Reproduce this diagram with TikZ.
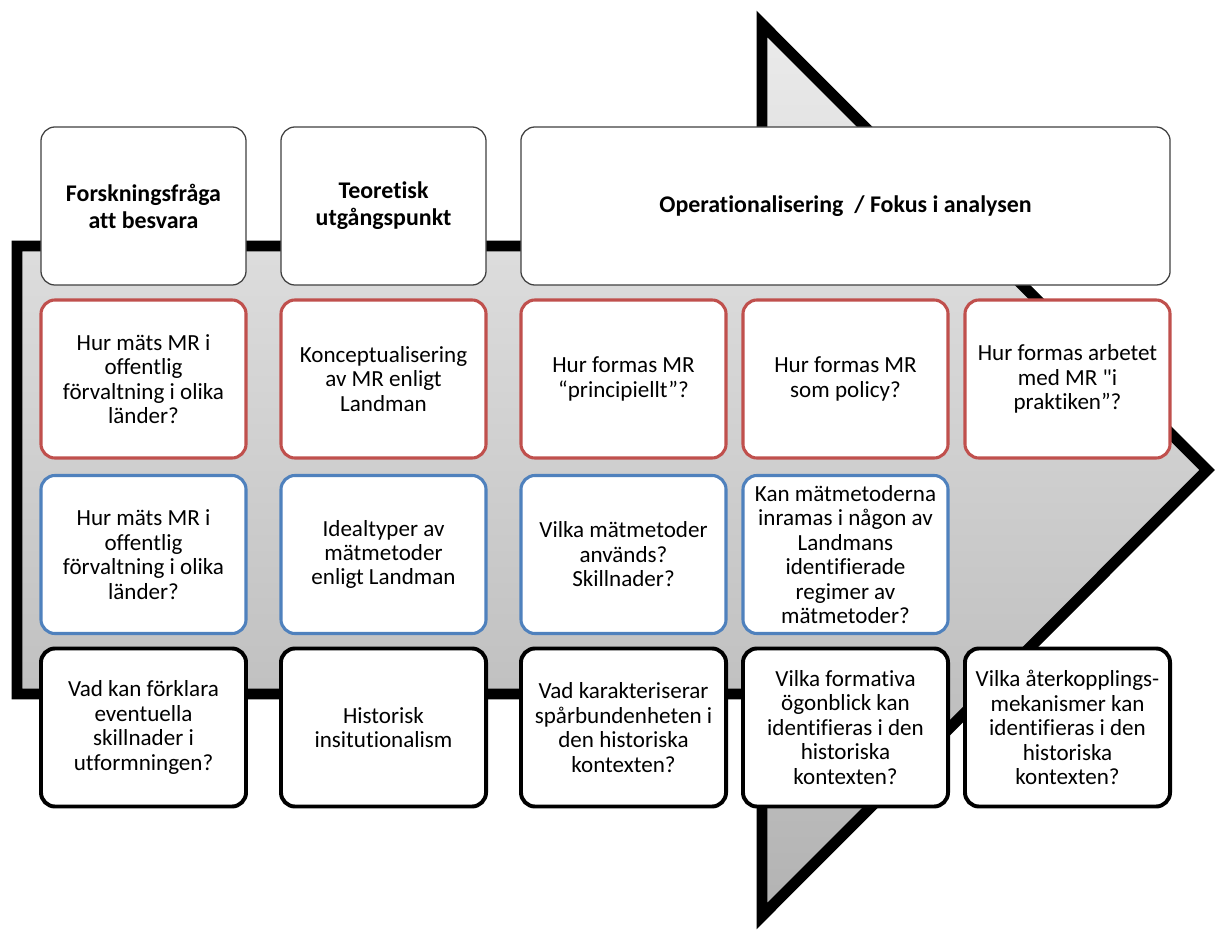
\documentclass[tikz,border=0pt]{standalone}
\usepackage{fontspec}
\newfontfamily\calfont{Carlito}[Ligatures=NoCommon]
\usetikzlibrary{shadings}
\definecolor{redline}{RGB}{192,80,77}
\definecolor{blueline}{RGB}{79,129,189}
\definecolor{headline}{RGB}{64,64,64}

\begin{document}
\begin{tikzpicture}[x=0.025cm, y=-0.025cm,
    box/.style={draw, fill=white, rounded corners=10pt, align=center,
      minimum width=5.125cm, minimum height=3.95cm, inner sep=2pt,
      font=\calfont\fontsize{16.4}{17.4}\selectfont},
    headbox/.style={box, draw=headline, line width=0.9pt,
      font=\calfont\bfseries\fontsize{17}{19.2}\selectfont},
    redbox/.style={box, draw=redline, line width=2.2pt},
    bluebox/.style={box, draw=blueline, line width=2.2pt},
    blackbox/.style={box, draw=black, line width=2.8pt}]
            \useasboundingbox (0, 0) rectangle (1216, 931);
            % big arrow behind the boxes
            \draw[line width=7.8pt, miter limit=4, top color=black!8, bottom color=black!30]
              (17, 246) -- (762, 246) -- (762, 24) -- (1207, 470) -- (762, 916)
              -- (762, 694) -- (17, 694) -- cycle;
            % headers
            \node[headbox](1) at (143.5, 206) {Forskningsfråga\\att besvara};
            \node[headbox](2) at (383.5, 206) {Teoretisk\\utgångspunkt};
            \node[headbox, minimum width=16.225cm](3) at (845.5, 206) {Operationalisering\ \ / Fokus i analysen};
            % row 1
            \node[redbox](4) at (143.5, 379) {Hur mäts MR i\\offentlig\\förvaltning i olika\\länder?};
            \node[redbox](5) at (383.5, 379) {Konceptualisering\\av MR enligt\\Landman};
            \node[redbox](6) at (623.5, 379) {Hur formas MR\\“principiellt”?};
            \node[redbox](7) at (845.5, 379) {Hur formas MR\\som policy?};
            \node[redbox](8) at (1067.5, 379) {Hur formas arbetet\\med MR "i\\praktiken”?};
            % row 2
            \node[bluebox](9) at (143.5, 554.5) {Hur mäts MR i\\offentlig\\förvaltning i olika\\länder?};
            \node[bluebox](10) at (383.5, 554.5) {Idealtyper av\\mätmetoder\\enligt Landman};
            \node[bluebox](11) at (623.5, 554.5) {Vilka mätmetoder\\används?\\Skillnader?};
            \node[bluebox](12) at (845.5, 554.5) {Kan mätmetoderna\\inramas i någon av\\Landmans\\identifierade\\regimer av\\mätmetoder?};
            % row 3
            \node[blackbox](13) at (143.5, 727.5) {Vad kan förklara\\eventuella\\skillnader i\\utformningen?};
            \node[blackbox](14) at (383.5, 727.5) {Historisk\\insitutionalism};
            \node[blackbox](15) at (623.5, 727.5) {Vad karakteriserar\\spårbundenheten i\\den historiska\\kontexten?};
            \node[blackbox](16) at (845.5, 727.5) {Vilka formativa\\ögonblick kan\\identifieras i den\\historiska\\kontexten?};
            \node[blackbox](17) at (1067.5, 727.5) {Vilka återkopplings-\\mekanismer kan\\identifieras i den\\historiska\\kontexten?};
        \end{tikzpicture}
\end{document}
